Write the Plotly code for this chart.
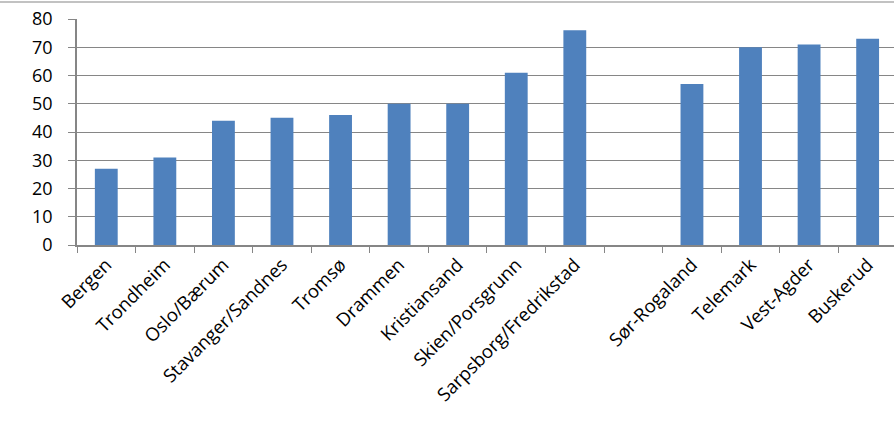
import plotly.graph_objects as go

categories = ["Bergen", "Trondheim", "Oslo/Bærum", "Stavanger/Sandnes", "Tromsø",
              "Drammen", "Kristiansand", "Skien/Porsgrunn", "Sarpsborg/Fredrikstad",
              " ", "Sør-Rogaland", "Telemark", "Vest-Agder", "Buskerud"]
values = [27, 31, 44, 45, 46, 50, 50, 61, 76, None, 57, 70, 71, 73]
y_ticks = [0, 10, 20, 30, 40, 50, 60, 70, 80]

fig = go.Figure(go.Bar(x=categories, y=values, marker_color="#4F81BD",
                       marker_line_width=0))

xfont = dict(family="Open Sans", size=18.5, color="#000000")
yfont = dict(family="Open Sans", size=18, color="#000000")
fig.update_layout(
    width=894, height=432,
    margin=dict(l=77, r=0, t=19, b=187, autoexpand=False),
    plot_bgcolor="white", paper_bgcolor="white",
    bargap=0.61, showlegend=False,
    xaxis=dict(type="category", range=[-0.5, 13.45], tickangle=-45, automargin=False,
               tickson="boundaries", ticks="outside", ticklen=6, tickcolor="#868686",
               showline=True, linecolor="#868686", linewidth=1.5,
               showgrid=False, tickfont=xfont, fixedrange=True),
    yaxis=dict(range=[0, 80], tickvals=y_ticks, ticks="outside", ticklen=7, automargin=False,
               tickcolor="#868686", showline=True, linecolor="#868686", linewidth=1.5,
               showgrid=True, gridcolor="#868686", gridwidth=1.2, zeroline=False,
               tickfont=yfont, ticklabelstandoff=12),
)
fig.add_shape(type="line", xref="paper", yref="paper", x0=-77/817, x1=1.0,
              y0=1 + 17/226, y1=1 + 17/226, line=dict(color="#868686", width=1.2))
fig.write_html("out.html", config={"displayModeBar": False},
               post_script="document.body.style.margin='0px';document.body.style.overflow='hidden';")
